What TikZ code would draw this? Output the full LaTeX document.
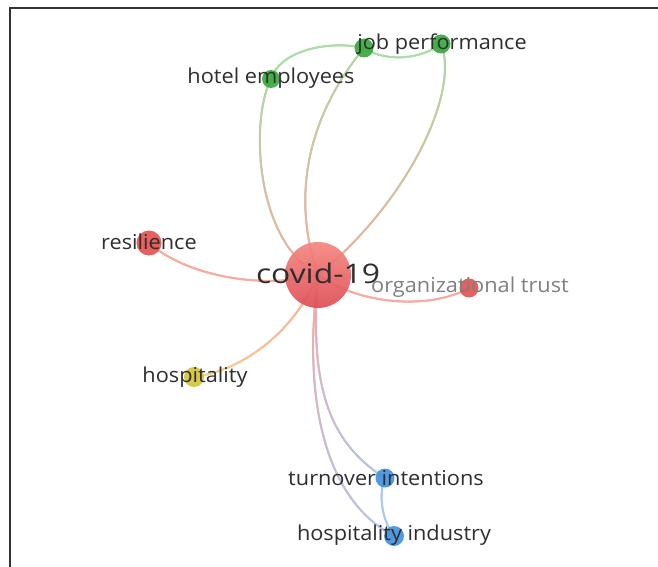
\documentclass[tikz,border=0pt]{standalone}
\usepackage{fontspec}
\setmainfont{Open Sans}
\usetikzlibrary{decorations.markings,backgrounds}
\definecolor{framec}{HTML}{333333}
\definecolor{labelc}{HTML}{2E2E2E}
\definecolor{graylbl}{HTML}{7F7F7F}
\definecolor{redtop}{HTML}{F4867F}
\definecolor{redbot}{HTML}{DE4C55}
\definecolor{reddot}{HTML}{E4524F}
\definecolor{greendot}{HTML}{37A93E}
\definecolor{bluedot}{HTML}{4193DE}
\definecolor{yellowdot}{HTML}{D3C436}
\definecolor{eR}{HTML}{F9AA9E}
\definecolor{eG}{HTML}{AADCA5}
\definecolor{eB}{HTML}{A8C9F2}
\definecolor{eY}{HTML}{F3D68A}
\newcommand{\lbltxt}[1]{\scalebox{1.06}[1]{#1}}
\newcommand{\bigtxt}[1]{\scalebox{1.18}[1]{#1}}
\tikzset{
  dot/.style={circle, inner sep=0pt, draw=none, opacity=0.92},
  lbl/.style={text=labelc, font=\fontsize{20.5}{20.5}\selectfont, inner sep=0pt},
  edgeg/.style 2 args={line width=2pt, draw=#1!50!#2,
    postaction={decorate, decoration={markings,
      mark=between positions 0 and 1 step 0.7pt with {%
        \pgfmathsetmacro\gp{(\pgfkeysvalueof{/pgf/decoration/mark info/distance from start}/\pgfdecoratedpathlength)*100}%
        \fill[#2!\gp!#1] (0,0) circle (1pt);}}}},
}
\begin{document}
\begin{tikzpicture}[x=1pt,y=-1pt]
\useasboundingbox (0,0) rectangle (658,567);
% frame
\draw[framec, line width=2pt] (9.5,567) -- (9.5,8) -- (658,8);
% nodes
\node[dot, minimum size=66pt, top color=redtop, bottom color=redbot] (covid) at (318,275) {};
\node[dot, minimum size=18pt, fill=greendot] (hotel) at (271,79) {};
\node[dot, minimum size=19pt, fill=greendot] (jobA) at (364,48) {};
\node[dot, minimum size=19pt, fill=greendot] (jobB) at (441,44) {};
\node[dot, minimum size=25pt, fill=reddot] (resil) at (149,243) {};
\node[dot, minimum size=19pt, fill=reddot] (trust) at (469,288) {};
\node[dot, minimum size=20pt, fill=yellowdot] (hosp) at (194,377) {};
\node[dot, minimum size=19pt, fill=bluedot] (turn) at (385,478) {};
\node[dot, minimum size=20pt, fill=bluedot] (hind) at (394,536) {};
% edges
\begin{scope}[on background layer]
\draw[edgeg={eR}{eG}] (covid.center) .. controls (255,240) and (250,120) .. (hotel.center);
\draw[edgeg={eG}{eG}] (hotel.center) .. controls (280,50) and (330,40) .. (jobA.center);
\draw[edgeg={eG}{eG}] (jobA.center) .. controls (385,62) and (420,60) .. (jobB.center);
\draw[edgeg={eR}{eG}] (covid.center) .. controls (292,200) and (305,120) .. (jobA.center);
\draw[edgeg={eR}{eG}] (covid.center) .. controls (410,200) and (460,90) .. (jobB.center);
\draw[edgeg={eR}{eR}] (covid.center) .. controls (260,290) and (185,275) .. (resil.center);
\draw[edgeg={eR}{eR}] (covid.center) .. controls (360,305) and (430,310) .. (trust.center);
\draw[edgeg={eR}{eY}] (covid.center) .. controls (295,330) and (245,370) .. (hosp.center);
\draw[edgeg={eR}{eB}] (covid.center) .. controls (310,380) and (325,440) .. (turn.center);
\draw[edgeg={eR}{eB}] (covid.center) .. controls (302,400) and (325,500) .. (hind.center);
\draw[edgeg={eB}{eB}] (turn.center) .. controls (378,495) and (382,520) .. (hind.center);
\end{scope}
% labels
\node[lbl, font=\fontsize{27}{27}\selectfont] (covidL) at (318,273) {\bigtxt{covid-19}};
\node[lbl] (hotelL) at (271,78) {\lbltxt{hotel employees}};
\node[lbl] (jobL) at (442,44) {\lbltxt{job performance}};
\node[lbl] (resilL) at (149,242) {\lbltxt{resilience}};
\node[lbl, text=graylbl] (trustL) at (470,287) {\lbltxt{organizational trust}};
\node[lbl] (hospL) at (195,377) {\lbltxt{hospitality}};
\node[lbl] (turnL) at (386,478) {\lbltxt{turnover intentions}};
\node[lbl] (hindL) at (394,535) {\lbltxt{hospitality industry}};
\end{tikzpicture}
\end{document}
